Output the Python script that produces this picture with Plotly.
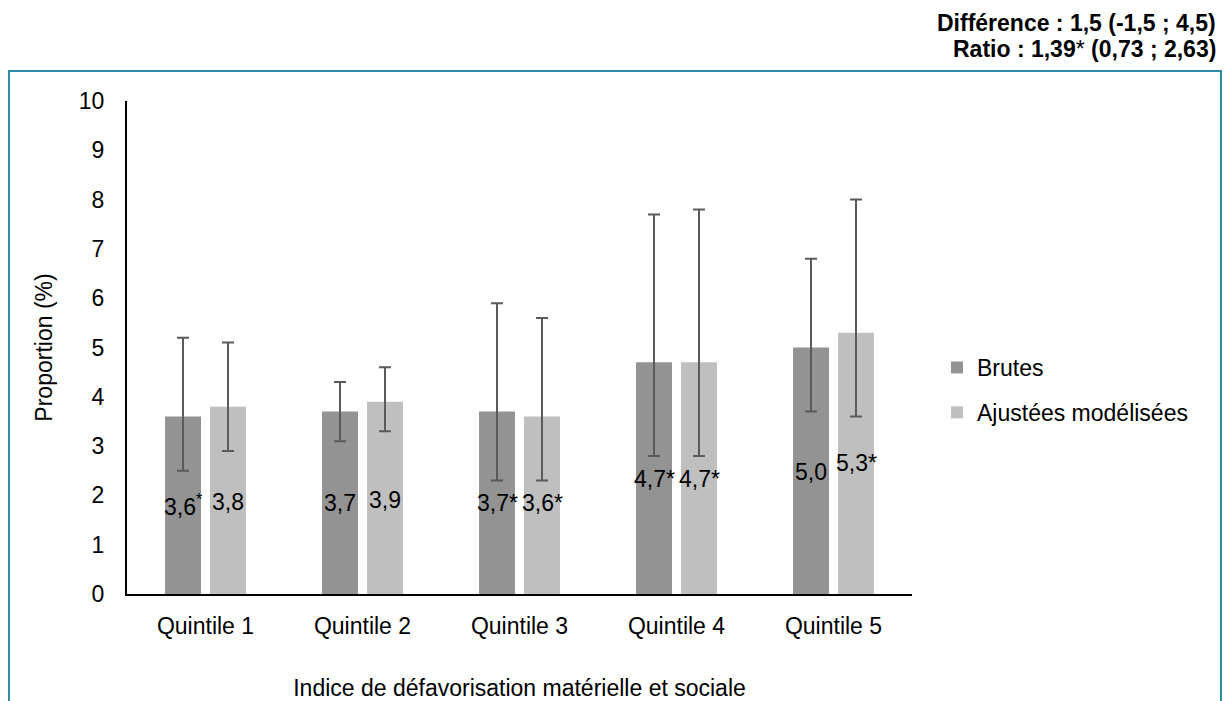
import plotly.graph_objects as go

# ---- data ----
categories = ["Quintile 1", "Quintile 2", "Quintile 3", "Quintile 4", "Quintile 5"]
brutes = [3.6, 3.7, 3.7, 4.7, 5.0]
brutes_low = [2.5, 3.1, 2.3, 2.8, 3.7]
brutes_high = [5.2, 4.3, 5.9, 7.7, 6.8]
ajustees = [3.8, 3.9, 3.6, 4.7, 5.3]
ajustees_low = [2.9, 3.3, 2.3, 2.8, 3.6]
ajustees_high = [5.1, 4.6, 5.6, 7.8, 8.0]
brutes_labels = ["3,6<sup>*</sup>", "3,7", "3,7*", "4,7*", "5,0"]
ajustees_labels = ["3,8", "3,9", "3,6*", "4,7*", "5,3*"]
y_ticks = list(range(0, 11))

# label placement (data units, layout only)
brutes_label_y = [1.81, 1.85, 1.85, 2.33, 2.48]
ajustees_label_y = [1.87, 1.90, 1.85, 2.33, 2.65]

FONT = "Liberation Sans, Arial, Helvetica, sans-serif"
FS = 23
OFF = 8  # page body margin
W, H = 1230 - OFF, 701 - OFF
# plot area in screen pixels: x 127..912, y 101..594
L, R = 127 - OFF, 1230 - 912
T, B = 101 - OFF, 701 - 594
PW, PH = W - L - R, H - T - B


def px(x):
    return (x - OFF - L) / PW


def py(y):
    return (H - B - (y - OFF)) / PH


fig = go.Figure()
fig.add_trace(go.Bar(
    name="Brutes", x=categories, y=brutes, legendgroup="a",
    marker=dict(color="#939393", line=dict(width=0)),
    error_y=dict(type="data", symmetric=False,
                 array=[h - v for h, v in zip(brutes_high, brutes)],
                 arrayminus=[v - l for v, l in zip(brutes, brutes_low)],
                 color="#5A5A5A", thickness=2, width=6),
))
fig.add_trace(go.Bar(
    name="Ajustées modélisées", x=categories, y=ajustees, legendgroup="b",
    marker=dict(color="#BFBFBF", line=dict(width=0)),
    error_y=dict(type="data", symmetric=False,
                 array=[h - v for h, v in zip(ajustees_high, ajustees)],
                 arrayminus=[v - l for v, l in zip(ajustees, ajustees_low)],
                 color="#5A5A5A", thickness=2, width=6),
))

for i, c in enumerate(categories):
    fig.add_annotation(x=c, y=brutes_label_y[i], text=brutes_labels[i], showarrow=False,
                       xshift=-22.5, font=dict(size=FS, color="black", family=FONT))
    fig.add_annotation(x=c, y=ajustees_label_y[i], text=ajustees_labels[i], showarrow=False,
                       xshift=22.5, font=dict(size=FS, color="black", family=FONT))

fig.add_annotation(xref="paper", yref="paper", x=px(1218), y=py(8), xanchor="right", yanchor="top",
                   text="<b>Différence : 1,5 (-1,5 ; 4,5)</b>", showarrow=False, align="right",
                   font=dict(size=23, color="black", family=FONT))
fig.add_annotation(xref="paper", yref="paper", x=px(1218), y=py(34), xanchor="right", yanchor="top",
                   text="<b>Ratio : 1,39</b>*<b> (0,73 ; 2,63)</b>", showarrow=False, align="right",
                   font=dict(size=23, color="black", family=FONT))

# frame
fig.add_shape(type="rect", xref="paper", yref="paper",
              x0=px(9), x1=px(1221), y0=py(720), y1=py(71),
              line=dict(color="#2E8CA3", width=2), fillcolor="rgba(0,0,0,0)", layer="below")

fig.update_layout(
    width=W, height=H,
    margin=dict(l=L, r=R, t=T, b=B, autoexpand=False),
    paper_bgcolor="white", plot_bgcolor="white",
    barmode="group", bargap=0.427, bargroupgap=0.2,
    font=dict(family=FONT, size=FS, color="black"),
    showlegend=True,
    legend=dict(x=px(937), y=py(346), xanchor="left", yanchor="top",
                font=dict(size=FS, family=FONT, color="black"),
                itemwidth=30, tracegroupgap=12, traceorder="grouped",
                bgcolor="rgba(0,0,0,0)"),
    xaxis=dict(showline=True, linecolor="black", linewidth=2, ticks="",
               ticklabelstandoff=10, showgrid=False, zeroline=False,
               title=dict(text="Indice de défavorisation matérielle et sociale", standoff=44,
                          font=dict(size=FS, family=FONT))),
    yaxis=dict(range=[0, 10], tickvals=y_ticks, showline=True, linecolor="black", linewidth=2,
               ticks="", ticklabelstandoff=16, showgrid=False, zeroline=False,
               title=dict(text="Proportion (%)", standoff=20, font=dict(size=FS, family=FONT))),
)

fig.write_html("out.html")
